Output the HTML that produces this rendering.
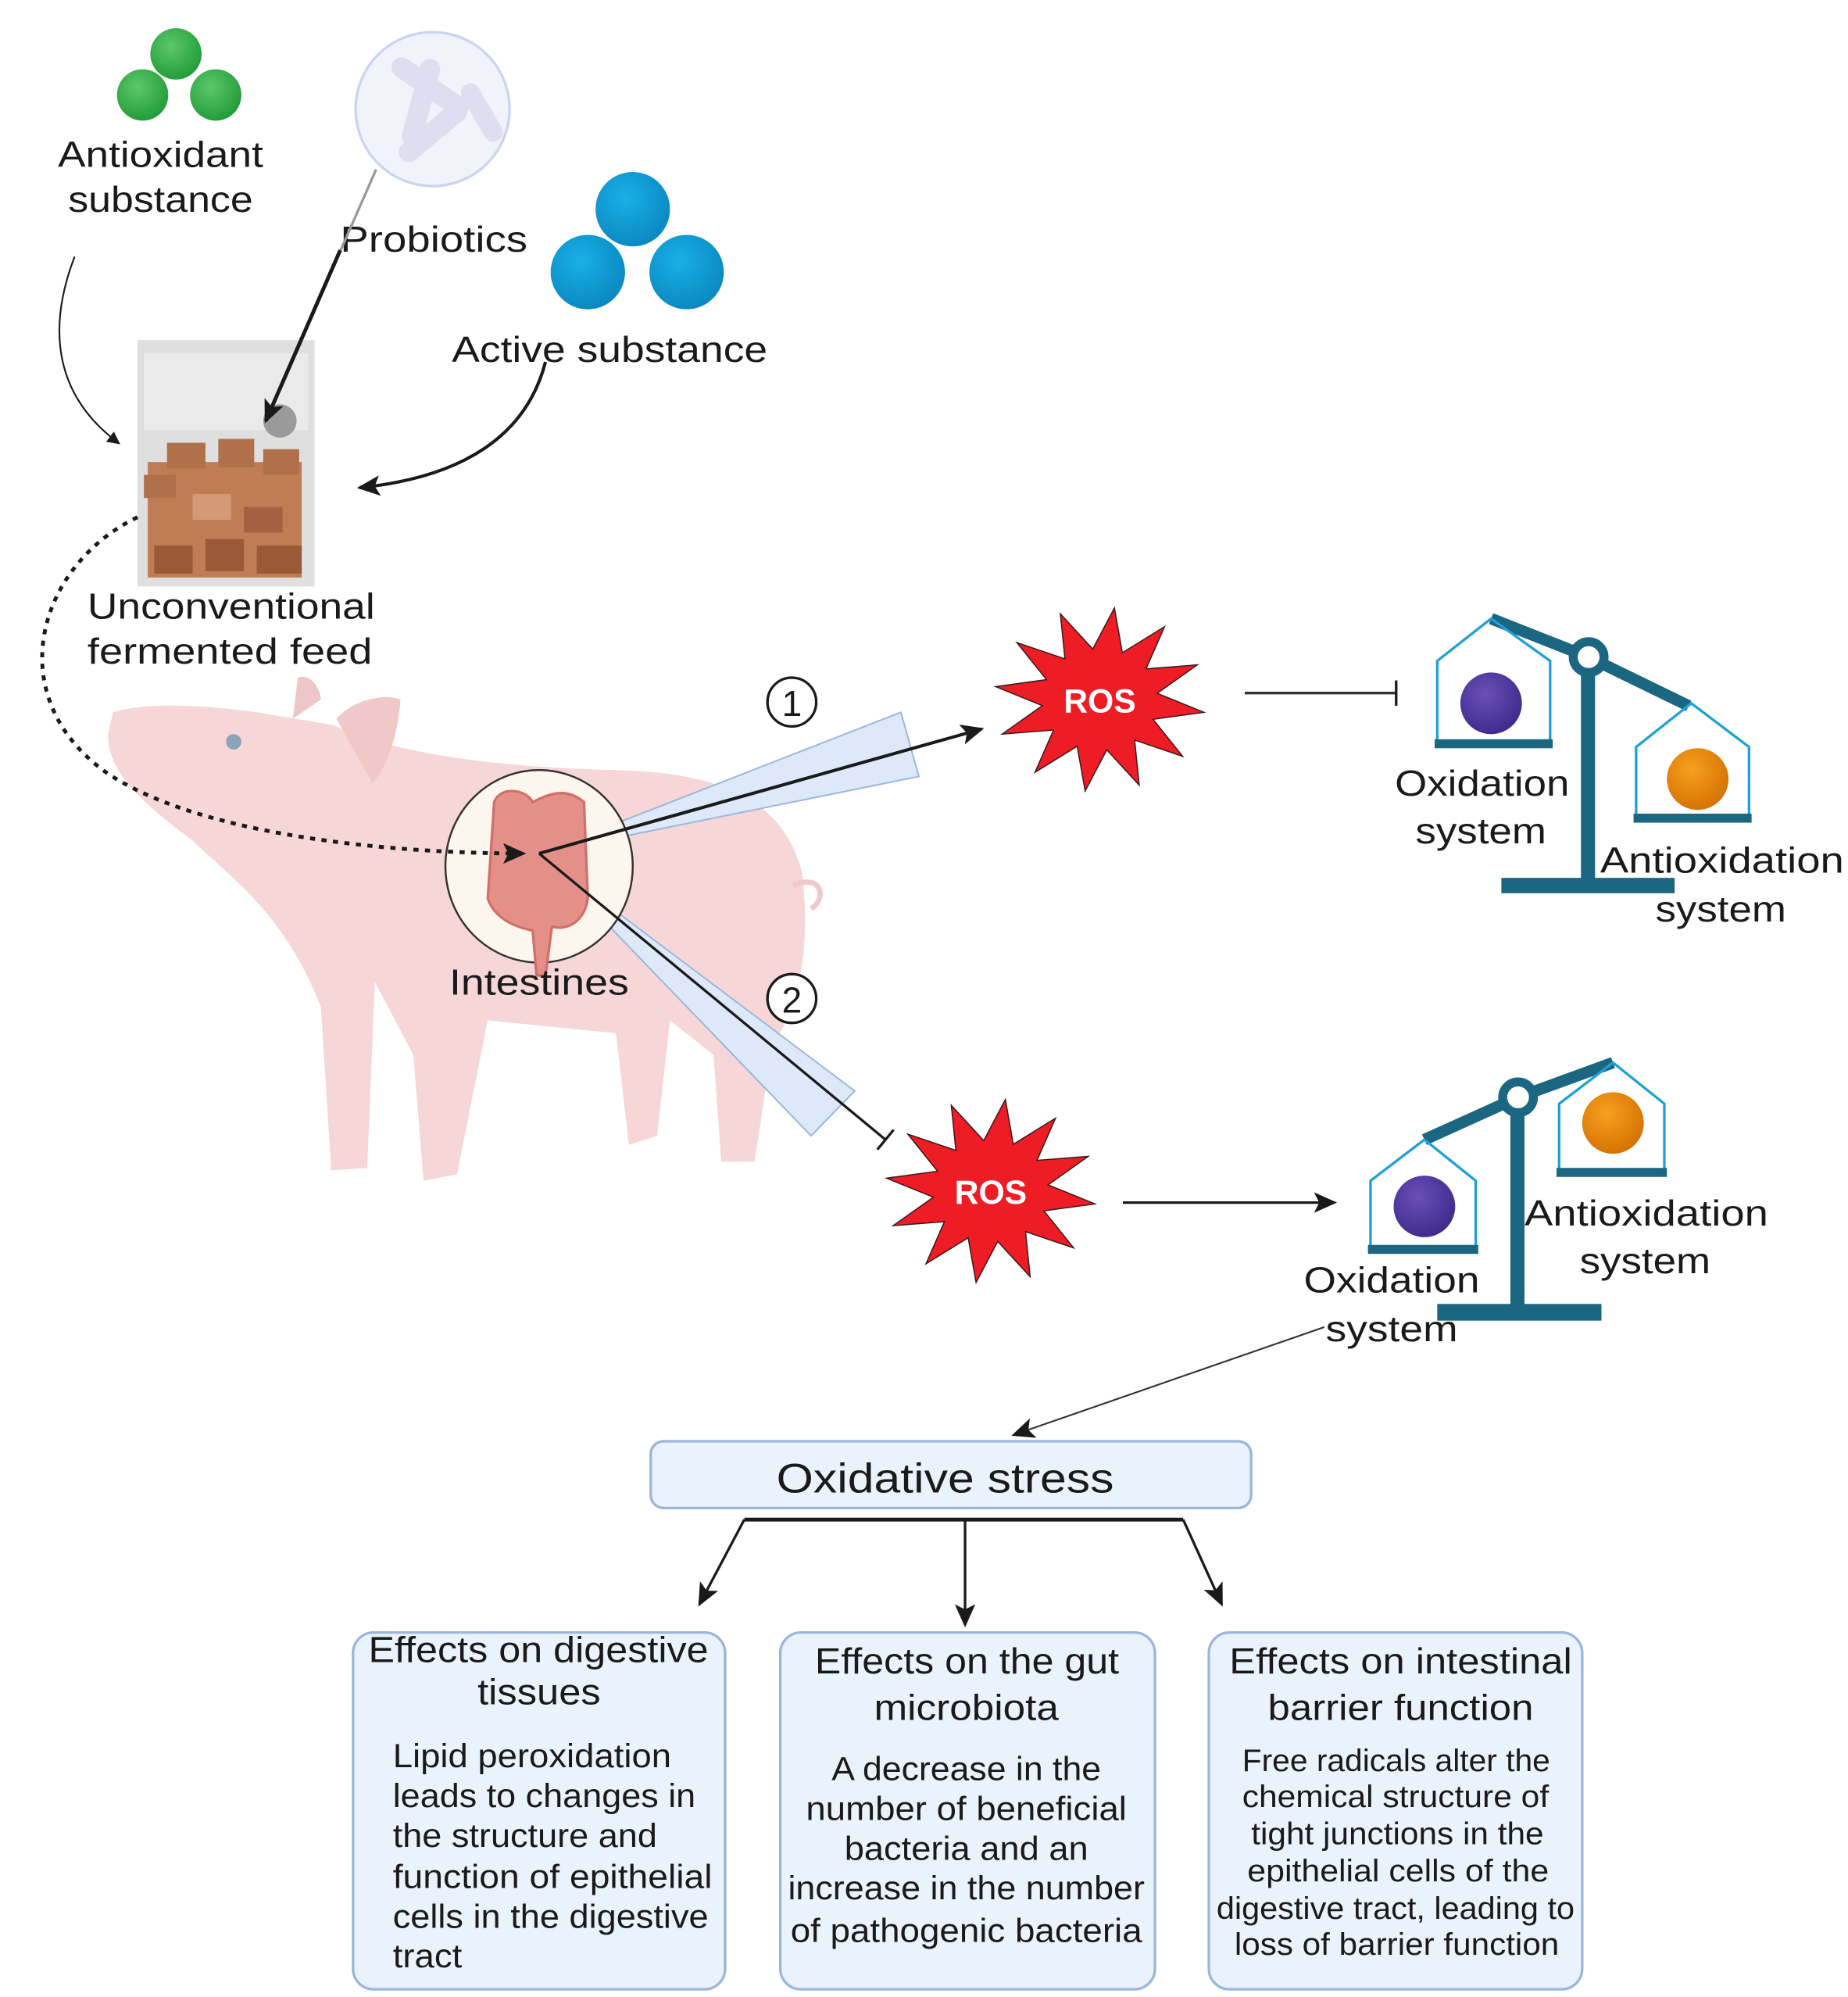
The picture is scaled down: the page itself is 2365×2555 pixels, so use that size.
<!DOCTYPE html>
<html><head><meta charset="utf-8"><style>
html,body{margin:0;padding:0;background:#fff}
svg{display:block}
text{font-family:"Liberation Sans",sans-serif;fill:#1a1a1a}
</style></head><body>
<svg width="2365" height="2555" viewBox="0 0 1440 1556" xmlns="http://www.w3.org/2000/svg">
<defs>
<marker id="ah" markerWidth="10" markerHeight="10" refX="8" refY="5" orient="auto" markerUnits="userSpaceOnUse"><path d="M0,0 L10,5 L0,10 Z" fill="#1a1a1a"/></marker>
<marker id="ahb" markerWidth="18" markerHeight="16" refX="16" refY="8" orient="auto" markerUnits="userSpaceOnUse"><path d="M0,0 L18,8 L0,16 L4,8 Z" fill="#1a1a1a"/></marker>
<marker id="bar" markerWidth="4" markerHeight="20" refX="2" refY="10" orient="auto" markerUnits="userSpaceOnUse"><rect x="1" y="0" width="2" height="20" fill="#1a1a1a"/></marker>
<radialGradient id="gg" cx="0.4" cy="0.35" r="0.7"><stop offset="0" stop-color="#5cc86a"/><stop offset="1" stop-color="#1f9a36"/></radialGradient>
<radialGradient id="bg" cx="0.4" cy="0.35" r="0.7"><stop offset="0" stop-color="#19b0e6"/><stop offset="1" stop-color="#0a86c0"/></radialGradient>
<radialGradient id="pg" cx="0.4" cy="0.35" r="0.7"><stop offset="0" stop-color="#6a4fb8"/><stop offset="1" stop-color="#3d2a8a"/></radialGradient>
<radialGradient id="og" cx="0.4" cy="0.35" r="0.7"><stop offset="0" stop-color="#f8a020"/><stop offset="1" stop-color="#d47000"/></radialGradient>
</defs>

<!-- green balls -->
<circle cx="137" cy="42" r="20" fill="url(#gg)"/>
<circle cx="111" cy="74" r="20" fill="url(#gg)"/>
<circle cx="168" cy="74" r="20" fill="url(#gg)"/>
<text x="45" y="130" font-size="28" textLength="160" lengthAdjust="spacingAndGlyphs">Antioxidant</text>
<text x="53" y="165" font-size="28" textLength="144" lengthAdjust="spacingAndGlyphs">substance</text>

<!-- probiotics -->
<circle cx="337" cy="85" r="60" fill="#f1f3fb" stroke="#c9d4ef" stroke-width="2"/>
<g fill="#dcdcf0" opacity="0.9">
<rect x="300" y="60" width="70" height="16" rx="8" transform="rotate(35 335 68)"/>
<rect x="305" y="95" width="65" height="16" rx="8" transform="rotate(-40 337 103)"/>
<rect x="320" y="45" width="16" height="70" rx="8" transform="rotate(15 328 80)"/>
<rect x="350" y="80" width="50" height="15" rx="7" transform="rotate(60 375 88)"/>
</g>
<text x="265" y="196" font-size="28" textLength="146" lengthAdjust="spacingAndGlyphs">Probiotics</text>

<!-- blue balls -->
<circle cx="493" cy="163" r="29" fill="url(#bg)"/>
<circle cx="458" cy="212" r="29" fill="url(#bg)"/>
<circle cx="535" cy="212" r="29" fill="url(#bg)"/>
<text x="352" y="282" font-size="28" textLength="246" lengthAdjust="spacingAndGlyphs">Active substance</text>

<!-- bag -->
<rect x="107" y="265" width="138" height="192" fill="#d9d9d9" opacity="0.85"/>
<rect x="112" y="275" width="128" height="60" fill="#ececec" opacity="0.8"/>
<circle cx="218" cy="328" r="13" fill="#9a9a9a"/>
<g fill="#b0714a">
<rect x="115" y="360" width="120" height="90" fill="#c07d55"/>
<rect x="130" y="345" width="30" height="20"/><rect x="170" y="342" width="28" height="22"/><rect x="205" y="350" width="28" height="20"/>
<rect x="112" y="370" width="25" height="18"/><rect x="120" y="425" width="30" height="22" fill="#9a5a38"/><rect x="160" y="420" width="30" height="25" fill="#9a5a38"/><rect x="200" y="425" width="35" height="22" fill="#9a5a38"/>
<rect x="150" y="385" width="30" height="20" fill="#d49a75"/><rect x="190" y="395" width="30" height="20" fill="#a46040"/>
</g>
<text x="68" y="482" font-size="28" textLength="224" lengthAdjust="spacingAndGlyphs">Unconventional</text>
<text x="68" y="517" font-size="28" textLength="222" lengthAdjust="spacingAndGlyphs">fermented feed</text>

<!-- arrows into bag -->
<path d="M58,200 C35,260 45,310 92,345" fill="none" stroke="#1a1a1a" stroke-width="1.3" marker-end="url(#ah)"/>
<path d="M293,132 L207,328" fill="none" stroke="#999" stroke-width="2"/>
<path d="M265,195 L207,328" fill="none" stroke="#1a1a1a" stroke-width="3" marker-end="url(#ahb)"/>
<path d="M425,282 C410,340 360,372 280,380" fill="none" stroke="#1a1a1a" stroke-width="2.5" marker-end="url(#ahb)"/>

<!-- pig -->
<g fill="#f6d6d6">
<path d="M88,555 C110,548 150,548 200,555 L260,565 C300,585 380,598 480,600 C560,602 610,622 625,680 C632,740 622,790 602,812 L588,905 L562,905 L556,822 L522,795 L512,885 L490,892 L480,805 L380,795 L356,915 L330,920 L322,822 L292,765 L286,910 L258,912 L250,785 C222,712 180,684 150,655 C110,625 84,602 84,572 Z"/>
<path d="M228,560 L232,528 C240,525 248,532 250,545 Z" fill="#eec6c6"/>
<path d="M262,560 C275,545 300,540 312,545 C310,575 300,600 290,610 Z" fill="#f0c8c8"/>
<path d="M618,690 C640,680 645,700 632,708" fill="none" stroke="#f0c8c8" stroke-width="4"/>
</g>
<circle cx="182" cy="578" r="6" fill="#8aa4b8"/>

<!-- beams -->
<polygon points="420,665 702,555 716,605" fill="#dde9f8" stroke="#9ab6dc" stroke-width="1.2"/>
<polygon points="420,665 666,850 632,885" fill="#dde9f8" stroke="#9ab6dc" stroke-width="1.2"/>

<!-- intestine circle -->
<ellipse cx="420" cy="675" rx="73" ry="75" fill="#fdf6ee" stroke="#333" stroke-width="1.5"/>
<path d="M385,625 C390,612 410,615 415,625 C425,620 440,612 455,625 L458,700 C455,720 440,725 430,722 L425,760 L418,760 L415,725 C400,722 385,715 380,700 Z" fill="#e49088" stroke="#d07068" stroke-width="2"/>
<text x="350" y="775" font-size="28" textLength="140" lengthAdjust="spacingAndGlyphs">Intestines</text>

<!-- dotted path -->
<path d="M107,403 C30,440 0,540 80,600 C150,650 300,665 408,665" fill="none" stroke="#1a1a1a" stroke-width="3" stroke-dasharray="4,5" marker-end="url(#ahb)"/>

<!-- arrow 1 and inhibit 2 -->
<line x1="420" y1="665" x2="765" y2="568" stroke="#1a1a1a" stroke-width="2.5" marker-end="url(#ahb)"/>
<line x1="420" y1="665" x2="690" y2="888" stroke="#1a1a1a" stroke-width="2" marker-end="url(#bar)"/>
<circle cx="617" cy="547" r="19" fill="#fff" stroke="#1a1a1a" stroke-width="2"/>
<text x="617" y="558" font-size="28" text-anchor="middle">1</text>
<circle cx="617" cy="778" r="19" fill="#fff" stroke="#1a1a1a" stroke-width="2"/>
<text x="617" y="789" font-size="28" text-anchor="middle">2</text>

<!-- ROS stars -->
<g id="star">
<polygon transform="translate(857,545) scale(82,72) rotate(8)" vector-effect="non-scaling-stroke" fill="#ee1c24" stroke="#3a1a1a" stroke-width="1.5" points="1,0 0.531,0.142 0.866,0.5 0.389,0.389 0.5,0.866 0.142,0.531 0,1 -0.142,0.531 -0.5,0.866 -0.389,0.389 -0.866,0.5 -0.531,0.142 -1,0 -0.531,-0.142 -0.866,-0.5 -0.389,-0.389 -0.5,-0.866 -0.142,-0.531 0,-1 0.142,-0.531 0.5,-0.866 0.389,-0.389 0.866,-0.5 0.531,-0.142"/>
</g>
<text x="857" y="555" font-size="26" font-weight="bold" text-anchor="middle" style="fill:#fff">ROS</text>
<polygon transform="translate(772,928) scale(82,72) rotate(8)" vector-effect="non-scaling-stroke" fill="#ee1c24" stroke="#3a1a1a" stroke-width="1.5" points="1,0 0.531,0.142 0.866,0.5 0.389,0.389 0.5,0.866 0.142,0.531 0,1 -0.142,0.531 -0.5,0.866 -0.389,0.389 -0.866,0.5 -0.531,0.142 -1,0 -0.531,-0.142 -0.866,-0.5 -0.389,-0.389 -0.5,-0.866 -0.142,-0.531 0,-1 0.142,-0.531 0.5,-0.866 0.389,-0.389 0.866,-0.5 0.531,-0.142"/>
<text x="772" y="938" font-size="26" font-weight="bold" text-anchor="middle" style="fill:#fff">ROS</text>

<line x1="970" y1="540" x2="1088" y2="540" stroke="#333" stroke-width="2" marker-end="url(#bar)"/>
<line x1="875" y1="937" x2="1040" y2="937" stroke="#1a1a1a" stroke-width="2" marker-end="url(#ahb)"/>

<!-- scale 1 -->
<g>
<line x1="1162" y1="482" x2="1238" y2="512" stroke="#1b6680" stroke-width="9"/>
<line x1="1238" y1="512" x2="1316" y2="550" stroke="#1b6680" stroke-width="9"/>
<rect x="1232" y="520" width="11" height="170" fill="#1b6680"/>
<rect x="1170" y="684" width="135" height="12" fill="#1b6680"/>
<circle cx="1238" cy="512" r="12" fill="#fff" stroke="#1b6680" stroke-width="7"/>
<path d="M1120,578 L1120,515 L1162,482 L1208,515 L1208,578" fill="none" stroke="#1da0d8" stroke-width="2"/>
<rect x="1118" y="576" width="92" height="7" fill="#1b6680"/>
<circle cx="1162" cy="548" r="24" fill="url(#pg)"/>
<path d="M1275,637 L1275,582 L1318,548 L1363,582 L1363,637" fill="none" stroke="#1da0d8" stroke-width="2"/>
<rect x="1273" y="634" width="92" height="7" fill="#1b6680"/>
<circle cx="1323" cy="607" r="24" fill="url(#og)"/>
</g>
<text x="1087" y="620" font-size="28" textLength="136" lengthAdjust="spacingAndGlyphs">Oxidation</text>
<text x="1103" y="657" font-size="28" textLength="102" lengthAdjust="spacingAndGlyphs">system</text>
<text x="1247" y="680" font-size="28" textLength="190" lengthAdjust="spacingAndGlyphs">Antioxidation</text>
<text x="1290" y="718" font-size="28" textLength="102" lengthAdjust="spacingAndGlyphs">system</text>

<!-- scale 2 -->
<g>
<line x1="1110" y1="888" x2="1183" y2="855" stroke="#1b6680" stroke-width="9"/>
<line x1="1183" y1="855" x2="1257" y2="828" stroke="#1b6680" stroke-width="9"/>
<rect x="1177" y="862" width="11" height="160" fill="#1b6680"/>
<rect x="1120" y="1016" width="128" height="13" fill="#1b6680"/>
<circle cx="1183" cy="855" r="12" fill="#fff" stroke="#1b6680" stroke-width="7"/>
<path d="M1068,972 L1068,920 L1110,888 L1150,920 L1150,972" fill="none" stroke="#1da0d8" stroke-width="2"/>
<rect x="1066" y="970" width="86" height="7" fill="#1b6680"/>
<circle cx="1110" cy="940" r="24" fill="url(#pg)"/>
<path d="M1215,912 L1215,860 L1257,828 L1297,860 L1297,912" fill="none" stroke="#1da0d8" stroke-width="2"/>
<rect x="1213" y="910" width="86" height="7" fill="#1b6680"/>
<circle cx="1257" cy="875" r="24" fill="url(#og)"/>
</g>
<text x="1188" y="955" font-size="28" textLength="190" lengthAdjust="spacingAndGlyphs">Antioxidation</text>
<text x="1231" y="992" font-size="28" textLength="102" lengthAdjust="spacingAndGlyphs">system</text>
<text x="1016" y="1007" font-size="28" textLength="137" lengthAdjust="spacingAndGlyphs">Oxidation</text>
<text x="1033" y="1045" font-size="28" textLength="103" lengthAdjust="spacingAndGlyphs">system</text>

<line x1="1032" y1="1034" x2="790" y2="1118" stroke="#333" stroke-width="1.3" marker-end="url(#ahb)"/>

<!-- oxidative stress -->
<rect x="507" y="1123" width="468" height="52" rx="10" fill="#eaf2fc" stroke="#9ab6dc" stroke-width="2"/>
<text x="605" y="1163" font-size="32" textLength="263" lengthAdjust="spacingAndGlyphs">Oxidative stress</text>
<line x1="580" y1="1184" x2="922" y2="1184" stroke="#1a1a1a" stroke-width="3"/>
<line x1="580" y1="1184" x2="545" y2="1250" stroke="#1a1a1a" stroke-width="2" marker-end="url(#ahb)"/>
<line x1="752" y1="1184" x2="752" y2="1266" stroke="#1a1a1a" stroke-width="2" marker-end="url(#ahb)"/>
<line x1="922" y1="1184" x2="952" y2="1250" stroke="#1a1a1a" stroke-width="2" marker-end="url(#ahb)"/>

<!-- effect boxes -->
<rect x="275" y="1272" width="290" height="278" rx="16" fill="#eaf2fc" stroke="#9ab6dc" stroke-width="2"/>
<rect x="608" y="1272" width="292" height="278" rx="16" fill="#eaf2fc" stroke="#9ab6dc" stroke-width="2"/>
<rect x="942" y="1272" width="291" height="278" rx="16" fill="#eaf2fc" stroke="#9ab6dc" stroke-width="2"/>

<g font-size="28">
<text x="287" y="1295" textLength="265" lengthAdjust="spacingAndGlyphs">Effects on digestive</text>
<text x="372" y="1328" textLength="96" lengthAdjust="spacingAndGlyphs">tissues</text>
<text x="635" y="1304" textLength="237" lengthAdjust="spacingAndGlyphs">Effects on the gut</text>
<text x="681" y="1340" textLength="144" lengthAdjust="spacingAndGlyphs">microbiota</text>
<text x="958" y="1304" textLength="267" lengthAdjust="spacingAndGlyphs">Effects on intestinal</text>
<text x="988" y="1340" textLength="207" lengthAdjust="spacingAndGlyphs">barrier function</text>
</g>
<g font-size="26" style="fill:#333">
<text x="306" y="1377" textLength="217" lengthAdjust="spacingAndGlyphs">Lipid peroxidation</text>
<text x="306" y="1408" textLength="236" lengthAdjust="spacingAndGlyphs">leads to changes in</text>
<text x="306" y="1439" textLength="206" lengthAdjust="spacingAndGlyphs">the structure and</text>
<text x="306" y="1471" textLength="249" lengthAdjust="spacingAndGlyphs">function of epithelial</text>
<text x="306" y="1502" textLength="246" lengthAdjust="spacingAndGlyphs">cells in the digestive</text>
<text x="306" y="1533" textLength="54" lengthAdjust="spacingAndGlyphs">tract</text>

<text x="648" y="1387" textLength="210" lengthAdjust="spacingAndGlyphs">A decrease in the</text>
<text x="628" y="1418" textLength="250" lengthAdjust="spacingAndGlyphs">number of beneficial</text>
<text x="658" y="1449" textLength="190" lengthAdjust="spacingAndGlyphs">bacteria and an</text>
<text x="614" y="1480" textLength="278" lengthAdjust="spacingAndGlyphs">increase in the number</text>
<text x="616" y="1513" textLength="274" lengthAdjust="spacingAndGlyphs">of pathogenic bacteria</text>
</g>
<g font-size="24" style="fill:#333">
<text x="968" y="1380" textLength="240" lengthAdjust="spacingAndGlyphs">Free radicals alter the</text>
<text x="968" y="1408" textLength="239" lengthAdjust="spacingAndGlyphs">chemical structure of</text>
<text x="975" y="1437" textLength="228" lengthAdjust="spacingAndGlyphs">tight junctions in the</text>
<text x="972" y="1466" textLength="235" lengthAdjust="spacingAndGlyphs">epithelial cells of the</text>
<text x="948" y="1495" textLength="279" lengthAdjust="spacingAndGlyphs">digestive tract, leading to</text>
<text x="962" y="1523" textLength="253" lengthAdjust="spacingAndGlyphs">loss of barrier function</text>
</g>
</svg>
</body></html>
